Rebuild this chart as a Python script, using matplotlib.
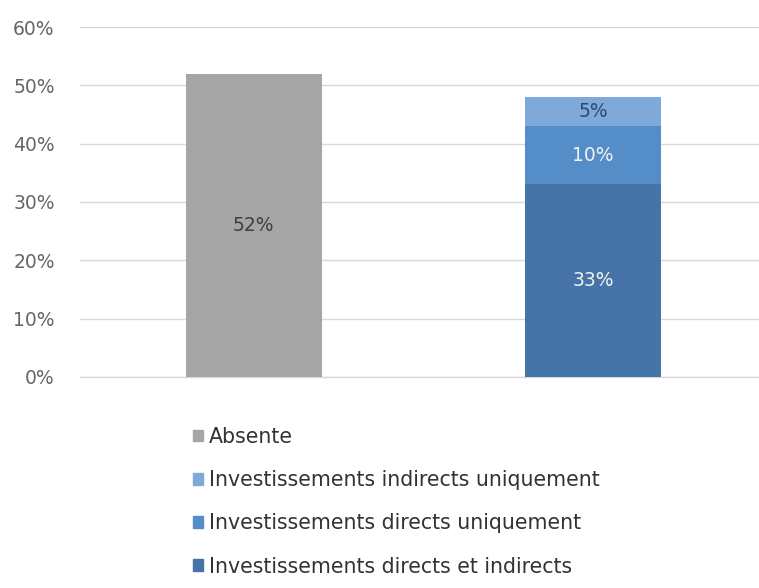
import matplotlib
matplotlib.use("Agg")
import matplotlib.pyplot as plt
from matplotlib.patches import Patch
from matplotlib.ticker import FuncFormatter

# share of respondents, per category (percent)
categories = ["Absente", "Présente"]
absente = [52, 0]
directs_et_indirects = [0, 33]
directs_uniquement = [0, 10]
indirects_uniquement = [0, 5]
yticks = [0, 10, 20, 30, 40, 50, 60]

legend_labels = ["Absente",
                 "Investissements indirects uniquement",
                 "Investissements directs uniquement",
                 "Investissements directs et indirects"]

GREY = "#a5a5a5"
DARK = "#4674a8"
MID = "#558dc8"
LIGHT = "#7ea9d9"

plt.rcParams["font.family"] = ["DejaVu Sans"]

fig = plt.figure(figsize=(7.59, 5.88), dpi=100)
ax = fig.add_axes([0.105, 0.359, 0.895, 0.595])

x = range(len(categories))
w = 0.4
ax.bar(x, absente, w, color=GREY, zorder=2)
ax.bar(x, directs_et_indirects, w, color=DARK, zorder=2)
bottom2 = directs_et_indirects
ax.bar(x, directs_uniquement, w, bottom=bottom2, color=MID, zorder=2)
bottom3 = [a + b for a, b in zip(directs_et_indirects, directs_uniquement)]
ax.bar(x, indirects_uniquement, w, bottom=bottom3, color=LIGHT, zorder=2)

# value labels centred in each segment
fs = 13.5
ax.text(0, absente[0] / 2, f"{absente[0]}%", ha="center", va="center",
        color="#404040", fontsize=fs)
ax.text(1, directs_et_indirects[1] / 2, f"{directs_et_indirects[1]}%",
        ha="center", va="center", color="#f2f2f2", fontsize=fs)
ax.text(1, bottom2[1] + directs_uniquement[1] / 2, f"{directs_uniquement[1]}%",
        ha="center", va="center", color="#f2f2f2", fontsize=fs)
ax.text(1, bottom3[1] + indirects_uniquement[1] / 2, f"{indirects_uniquement[1]}%",
        ha="center", va="center", color="#2e4a70", fontsize=fs)

ax.set_xlim(-0.512, 1.488)
ax.set_ylim(0, 60)
ax.set_yticks(yticks)
ax.yaxis.set_major_formatter(FuncFormatter(lambda v, _: f"{v:.0f}%"))
ax.set_xticks([])
ax.grid(axis="y", color="#d9d9d9", linewidth=1.0, zorder=0)
ax.axhline(0, color="#d9d9d9", linewidth=1.0, zorder=1, clip_on=False)
for s in ax.spines.values():
    s.set_visible(False)
ax.tick_params(axis="y", length=0, pad=18, labelsize=fs, labelcolor="#666666")

handles = [Patch(color=c) for c in (GREY, LIGHT, MID, DARK)]
fig.legend(handles, legend_labels, loc="upper left",
           bbox_to_anchor=(0.243, 0.288), frameon=False, fontsize=14.8,
           handlelength=0.5, handleheight=0.5, handletextpad=0.3,
           labelspacing=1.13, labelcolor="#333333", borderaxespad=0)

fig.savefig("out.png", dpi=100, facecolor="white")
